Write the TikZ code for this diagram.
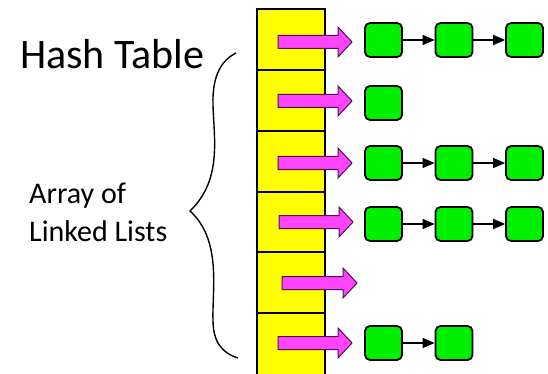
\documentclass[tikz,border=0pt]{standalone}
\usepackage{fontspec}
\setmainfont{Carlito}
\usetikzlibrary{arrows.meta}
\definecolor{cellyellow}{HTML}{FFFF00}
\definecolor{nodegreen}{HTML}{00F000}
\definecolor{arrowpink}{HTML}{FF44FF}
\tikzset{
  cell/.style={draw=black, line width=1.6pt, fill=cellyellow},
  listnode/.style={draw=black, line width=1.8pt, fill=nodegreen, rounded corners=5pt,
    minimum width=37pt, minimum height=34pt, inner sep=0pt},
  link/.style={draw=black, line width=1.4pt, -{Triangle[length=12pt,width=10pt]}},
  blockarrow/.style={draw=black!70!arrowpink, line width=1pt, fill=arrowpink, line join=miter},
}
\begin{document}
\begin{tikzpicture}[x=1pt,y=-1pt]
\useasboundingbox (0,0) rectangle (548,374);
% column
\fill[cellyellow] (257,9) rectangle (325,376);
\foreach \y in {70,131,192,252,313} \draw[line width=1.6pt] (257,\y) -- (325,\y);
\draw[line width=1.6pt] (257,376) -- (257,9) -- (325,9) -- (325,376);
% block arrows
\foreach \y/\xs/\xt in {42/278/352, 101/278/352, 163/278/352, 222/279/353, 283/282/357, 343/278/352}{
  \draw[blockarrow] (\xs,\y-6.5) -- (\xt-14,\y-6.5) -- (\xt-14,\y-15) -- (\xt,\y) -- (\xt-14,\y+15) -- (\xt-14,\y+6.5) -- (\xs,\y+6.5) -- cycle;
}
% list nodes
\node[listnode] (a1) at (383.5,40) {};
\node[listnode] (a2) at (454,40) {};
\node[listnode] (a3) at (524.5,40) {};
\node[listnode] (b1) at (383.5,103) {};
\node[listnode] (c1) at (383.5,163) {};
\node[listnode] (c2) at (454,163) {};
\node[listnode] (c3) at (524.5,163) {};
\node[listnode] (d1) at (383.5,224) {};
\node[listnode] (d2) at (454,224) {};
\node[listnode] (d3) at (524.5,224) {};
\node[listnode] (f1) at (383.5,343) {};
\node[listnode] (f2) at (454,343) {};
\draw[link] (a1) -- (a2);
\draw[link] (a2) -- (a3);
\draw[link] (c1) -- (c2);
\draw[link] (c2) -- (c3);
\draw[link] (d1) -- (d2);
\draw[link] (d2) -- (d3);
\draw[link] (f1) -- (f2);
% texts
\node[anchor=base west, inner sep=0pt, font=\fontsize{42}{46}\selectfont] (title) at (20,68.3) {Hash Table};
\node[anchor=base west, inner sep=0pt, font=\fontsize{30}{38}\selectfont] (label1) at (29,203.3) {Array of};
\node[anchor=base west, inner sep=0pt, font=\fontsize{30}{38}\selectfont] (label2) at (29,241.7) {Linked Lists};
% brace
\draw[line width=1.4pt] (236,53) .. controls (222,60) and (212,75) .. (213,105)
  .. controls (214,140) and (222,180) .. (190,211)
  .. controls (222,240) and (212,290) .. (213,320)
  .. controls (213,342) and (222,353) .. (238,358);
\end{tikzpicture}
\end{document}
